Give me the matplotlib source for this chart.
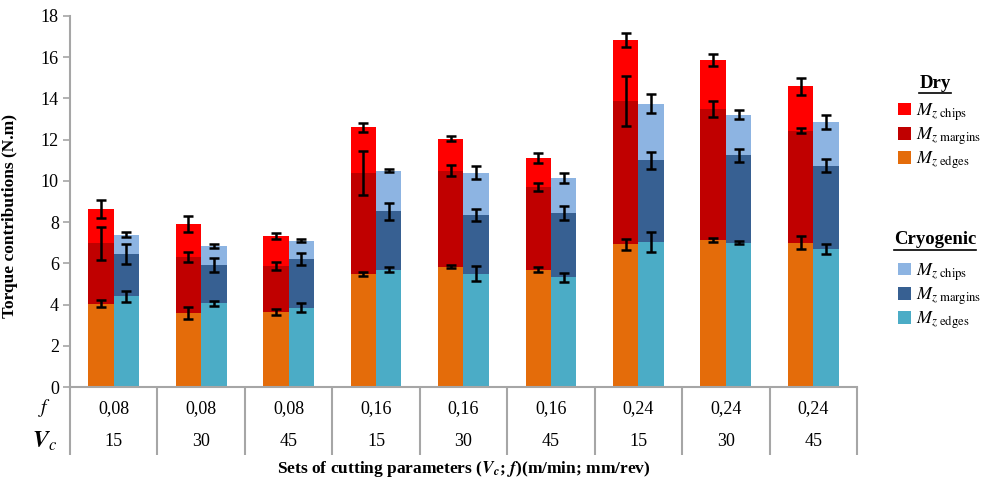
import matplotlib

matplotlib.use("Agg")
import numpy as np
from matplotlib import pyplot as plt
from matplotlib.patches import Patch
from matplotlib.transforms import blended_transform_factory

feed_labels = ["0,08", "0,08", "0,08", "0,16", "0,16", "0,16", "0,24", "0,24", "0,24"]
speed_labels = ["15", "30", "45", "15", "30", "45", "15", "30", "45"]

# torque contributions (N.m), stacked edges -> margins -> chips
dry_edges = [4.03, 3.58, 3.62, 5.47, 5.84, 5.70, 6.93, 7.14, 7.01]
dry_margins = [2.94, 2.73, 2.27, 4.91, 4.66, 4.02, 6.94, 6.34, 5.43]
dry_chips = [1.66, 1.59, 1.44, 2.22, 1.54, 1.38, 2.97, 2.38, 2.14]
dry_edges_err = [0.17, 0.28, 0.15, 0.10, 0.08, 0.10, 0.27, 0.11, 0.30]
dry_margins_err = [0.80, 0.23, 0.19, 1.07, 0.25, 0.20, 1.20, 0.39, 0.11]
dry_chips_err = [0.43, 0.39, 0.14, 0.21, 0.12, 0.23, 0.32, 0.28, 0.39]

cryo_edges = [4.40, 4.06, 3.85, 5.69, 5.50, 5.32, 7.03, 7.01, 6.68]
cryo_margins = [2.07, 1.86, 2.35, 2.83, 2.85, 3.11, 3.97, 4.24, 4.05]
cryo_chips = [0.91, 0.92, 0.89, 1.97, 2.05, 1.72, 2.74, 1.97, 2.13]
cryo_edges_err = [0.26, 0.11, 0.23, 0.13, 0.35, 0.23, 0.48, 0.09, 0.25]
cryo_margins_err = [0.49, 0.34, 0.28, 0.40, 0.29, 0.34, 0.40, 0.32, 0.32]
cryo_chips_err = [0.12, 0.12, 0.07, 0.08, 0.32, 0.24, 0.47, 0.23, 0.33]

dry_colors = {"chips": "#ff0000", "margins": "#c00000", "edges": "#e46c0a"}
cryo_colors = {"chips": "#8db4e2", "margins": "#376092", "edges": "#4bacc6"}

plt.rcParams["font.family"] = ["Liberation Serif", "DejaVu Serif"]
plt.rcParams["mathtext.fontset"] = "stix"

GRAY = "#a6a6a6"
BAR_WIDTH = 0.29


def draw_stack(axis, xs, layers, errors, colors):
    bottom = np.zeros(len(xs))
    for name, values, err in zip(["edges", "margins", "chips"], layers, errors):
        values = np.asarray(values)
        axis.bar(xs, values, BAR_WIDTH, bottom=bottom, color=colors[name],
                 edgecolor="none", zorder=2)
        bottom = bottom + values
        axis.errorbar(xs, bottom, yerr=err, fmt="none", ecolor="black",
                      elinewidth=1.8, capsize=3.6, capthick=1.8, zorder=3)


figure = plt.figure(figsize=(9.87, 4.79), dpi=100)
axis = figure.add_axes([70 / 987, 1 - 387 / 479, 787 / 987, 371 / 479])

x = np.arange(len(feed_labels))
draw_stack(axis, x - BAR_WIDTH / 2, [dry_edges, dry_margins, dry_chips],
           [dry_edges_err, dry_margins_err, dry_chips_err], dry_colors)
draw_stack(axis, x + BAR_WIDTH / 2, [cryo_edges, cryo_margins, cryo_chips],
           [cryo_edges_err, cryo_margins_err, cryo_chips_err], cryo_colors)

axis.set_xlim(-0.5, len(feed_labels) - 0.5)
axis.set_ylim(0, 18)
axis.set_yticks(np.arange(0, 19, 2))
axis.tick_params(axis="y", labelsize=13, length=5, width=1.2, color=GRAY, pad=3)

# group separators extend down through the parameter table
axis.set_xticks(np.arange(-0.5, len(feed_labels), 1.0))
axis.set_xticklabels([])
axis.tick_params(axis="x", length=49, width=1.5, color=GRAY, direction="out")

for side in ["top", "right"]:
    axis.spines[side].set_visible(False)
for side in ["left", "bottom"]:
    axis.spines[side].set_color(GRAY)
    axis.spines[side].set_linewidth(1.5)

table = blended_transform_factory(axis.transData, axis.transAxes)
for index, (feed, speed) in enumerate(zip(feed_labels, speed_labels)):
    axis.text(index, -0.057, feed, transform=table, ha="center", va="center", fontsize=13)
    axis.text(index, -0.147, speed, transform=table, ha="center", va="center", fontsize=13)
axis.text(-0.032, -0.057, r"$f$", transform=axis.transAxes, ha="center", va="center", fontsize=14)
axis.text(-0.032, -0.147, r"$\mathbfit{V}_{c}$", transform=axis.transAxes, ha="center",
          va="center", fontsize=17)

axis.set_ylabel("Torque contributions (N.m)", fontsize=12.5, fontweight="bold")
axis.yaxis.set_label_coords(-0.066, 0.46)
axis.text(0.5, -0.22, r"Sets of cutting parameters ($\mathbfit{V_c}$; $\mathbfit{f}$)(m/min; mm/rev)",
          transform=axis.transAxes, ha="center", va="center", fontsize=12.5, fontweight="bold")


def legend_block(title, title_y, colors, top_y):
    label = figure.text(935 / 987, 1 - title_y / 479, title, ha="center", va="center",
                        fontsize=13.5, fontweight="bold")
    figure.canvas.draw()
    box = label.get_window_extent().transformed(figure.transFigure.inverted())
    figure.add_artist(plt.Line2D([box.x0, box.x1], [box.y0 - 0.004, box.y0 - 0.004],
                                 color="black", linewidth=1.2, transform=figure.transFigure))
    handles = [Patch(facecolor=colors[name], edgecolor="none") for name in ["chips", "margins", "edges"]]
    names = [r"$M_{z\ \mathrm{chips}}$", r"$M_{z\ \mathrm{margins}}$", r"$M_{z\ \mathrm{edges}}$"]
    figure.legend(handles, names, loc="upper left", bbox_to_anchor=(898 / 987, 1 - top_y / 479),
                  frameon=False, fontsize=13, handlelength=0.7, handleheight=0.7,
                  handletextpad=0.3, labelspacing=0.15, borderaxespad=0, borderpad=0)


legend_block("Dry", 83, dry_colors, 101)
legend_block("Cryogenic", 240, cryo_colors, 261)

figure.savefig("out.png", dpi=100)
plt.close(figure)
